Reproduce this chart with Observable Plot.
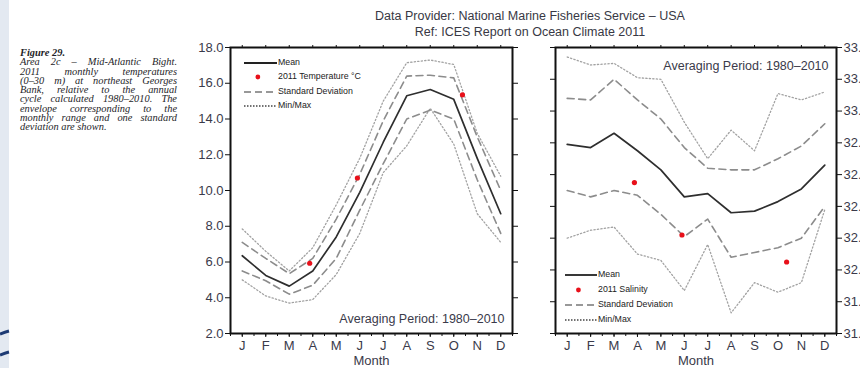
<!DOCTYPE html>
<html>
<head>
<meta charset="utf-8">
<script src="https://cdn.jsdelivr.net/npm/d3@7"></script>
<script src="https://cdn.jsdelivr.net/npm/@observablehq/plot@0.6"></script>
<style>
  html, body { margin:0; padding:0; background:#fff; }
  #root { position:relative; width:860px; height:368px; overflow:hidden; background:#fff; font-family:"Liberation Sans", Arial, sans-serif; }
  .abs { position:absolute; }
  .cap { position:absolute; left:20px; top:48px; width:157px; font-family:"Liberation Serif", "Times New Roman", serif; font-style:italic; font-size:10.4px; line-height:9.3px; color:#1e1e28; }
  .cap div { text-align:justify; text-align-last:justify; white-space:nowrap; }
  .cap div.last { text-align-last:left; }
  .title { position:absolute; left:330px; width:400px; text-align:center; font-size:12.5px; color:#383844; }
  .leg { position:absolute; font-size:8.8px; color:#222; white-space:nowrap; }
  .leg .row { position:absolute; left:0; height:10px; }
  .leg svg { position:absolute; left:0; top:0; }
  .leg span { position:absolute; top:-1px; }
</style>
</head>
<body>
<div id="root">
  <div class="abs" style="left:0;top:0;width:9px;height:368px;background:#e3e9f1;"></div>
  <svg class="abs" style="left:0;top:320px" width="12" height="48">
    <path d="M0,14 Q5,12 9,11" stroke="#1d3b74" stroke-width="3" fill="none"/>
    <path d="M0,35 Q5,33 9,32" stroke="#1d3b74" stroke-width="3" fill="none"/>
  </svg>
  <div class="cap" id="cap"></div>
  <div class="title" style="top:9px">Data Provider: National Marine Fisheries Service – USA</div>
  <div class="title" style="top:25px">Ref: ICES Report on Ocean Climate 2011</div>
  <div class="abs" id="left" style="left:190px;top:40px"></div>
  <div class="abs" id="right" style="left:520px;top:40px"></div>
</div>
<script>
// ---------- data ----------
const monthLabels = ["J","F","M","A","M","J","J","A","S","O","N","D"];
const monthIdx = [1,2,3,4,5,6,7,8,9,10,11,12];

// Temperature (°C), left panel
const tempTicks = [2,4,6,8,10,12,14,16,18];
const tempMean   = [6.35, 5.25, 4.65, 5.5, 7.4, 9.9, 12.7, 15.3, 15.65, 15.1, 11.8, 8.7];
const tempSdUp   = [7.1, 6.2, 5.35, 6.2, 8.4, 10.9, 13.9, 16.4, 16.45, 16.3, 13.0, 10.0];
const tempSdLow  = [5.5, 4.95, 4.2, 4.7, 6.2, 8.9, 11.5, 14.0, 14.5, 14.0, 10.6, 7.6];
const tempMax    = [7.85, 6.6, 5.5, 6.8, 9.2, 11.8, 15.0, 17.15, 17.3, 17.05, 13.2, 10.8];
const tempMin    = [5.0, 4.1, 3.7, 3.9, 5.3, 7.6, 11.0, 12.5, 14.6, 12.6, 8.7, 7.1];
const obsMonth   = [3.87, 5.9, 10.37];
const temp2011   = [5.93, 10.7, 15.35];

// Salinity, right panel
const salTicks = [31.6,31.8,32.0,32.2,32.4,32.6,32.8,33.0,33.2,33.4];
const salMean  = [32.79, 32.77, 32.86, 32.75, 32.63, 32.46, 32.48, 32.36, 32.37, 32.43, 32.51, 32.66];
const salSdUp  = [33.08, 33.07, 33.20, 33.07, 32.95, 32.77, 32.64, 32.63, 32.63, 32.70, 32.78, 32.92];
const salSdLow = [32.50, 32.46, 32.50, 32.47, 32.35, 32.21, 32.32, 32.08, 32.11, 32.14, 32.20, 32.40];
const salMax   = [33.34, 33.29, 33.30, 33.21, 33.20, 32.93, 32.70, 32.88, 32.75, 33.11, 33.07, 33.12];
const salMin   = [32.20, 32.25, 32.27, 32.10, 32.06, 31.87, 32.16, 31.73, 31.92, 31.86, 31.92, 32.38];
const sal2011  = [32.55, 32.22, 32.05];

const captionLines = [
  "Area 2c – Mid-Atlantic Bight.",
  "2011 monthly temperatures",
  "(0–30 m) at northeast Georges",
  "Bank, relative to the annual",
  "cycle calculated 1980–2010. The",
  "envelope corresponding to the",
  "monthly range and one standard",
  "deviation are shown."
];

// ---------- helpers ----------
const rows = arr => arr.map((v, i) => ({m: monthIdx[i], v}));
const pts = (ms, vs) => ms.map((m, i) => ({m, v: vs[i]}));
const halfTicks = d3.range(0.5, 12.51, 0.5);

const sMean = {stroke:"#2e2e2e", strokeWidth:1.7};
const sSd   = {stroke:"#8c8c8c", strokeWidth:1.6, strokeDasharray:"7,4.5"};
const sMm   = {stroke:"#a2a2a2", strokeWidth:1.3, strokeDasharray:"1.3,2.2"};
const textColor = "#3a3a4a";

function panel(o) {
  return Plot.plot({
    width: 340, height: 328,
    marginLeft: o.ml, marginRight: o.mr, marginTop: 7, marginBottom: 35,
    x: {domain: [0.5, 12.5]},
    y: {domain: o.domain},
    style: {fontFamily: "Liberation Sans, Arial, sans-serif", fontSize: "13px", color: textColor, background: "transparent", overflow: "visible"},
    marks: [
      Plot.line(rows(o.max), {x:"m", y:"v", ...sMm}),
      Plot.line(rows(o.min), {x:"m", y:"v", ...sMm}),
      Plot.line(rows(o.sdUp), {x:"m", y:"v", ...sSd}),
      Plot.line(rows(o.sdLow), {x:"m", y:"v", ...sSd}),
      Plot.line(rows(o.mean), {x:"m", y:"v", ...sMean}),
      Plot.dot(pts(obsMonth, o.obs), {x:"m", y:"v", r:2.6, fill:"#e8101a", stroke:"none"}),
      Plot.frame({stroke:"#111", strokeWidth:2}),
      Plot.axisY({anchor: o.labelSide, ticks: o.ticks, tickFormat: d => d.toFixed(1), tickSize:5, tickPadding:2, label:null, stroke:"#111"}),
      Plot.axisY({anchor: o.labelSide === "left" ? "right" : "left", ticks: o.ticks, tickFormat: () => "", tickSize:5, label:null, stroke:"#111"}),
      Plot.axisX({anchor:"top", ticks: monthIdx, tickFormat: () => "", tickSize:3, label:null, stroke:"#111"}),
      Plot.axisX({anchor:"bottom", ticks: halfTicks, tickFormat: () => "", tickSize:3, label:null, stroke:"#111"}),
      Plot.axisX({anchor:"bottom", ticks: monthIdx, tickFormat: i => monthLabels[i - 1], tickSize:4, tickPadding:3, label:null, stroke:"#111"}),
      Plot.text(["Month"], {text: d => d, frameAnchor:"bottom", dy:27, lineAnchor:"middle", fontSize:13, fill:textColor}),
      Plot.text(["Averaging Period: 1980–2010"], {text: d => d, frameAnchor: o.avgAnchor, dx: -8, dy: o.avgDy, lineAnchor:"middle", textAnchor:"end", fontSize:12.5, fill:textColor})
    ]
  });
}

document.getElementById("left").append(panel({
  ml: 40, mr: 18, domain: [2, 18], ticks: tempTicks, labelSide: "left",
  mean: tempMean, sdUp: tempSdUp, sdLow: tempSdLow, max: tempMax, min: tempMin, obs: temp2011,
  avgAnchor: "bottom-right", avgDy: -15
}));
document.getElementById("right").append(panel({
  ml: 35, mr: 24, domain: [31.6, 33.4], ticks: salTicks, labelSide: "right",
  mean: salMean, sdUp: salSdUp, sdLow: salSdLow, max: salMax, min: salMin, obs: sal2011,
  avgAnchor: "top-right", avgDy: 18
}));

// caption
const cap = document.getElementById("cap");
const head = document.createElement("div");
head.className = "last";
head.style.fontWeight = "bold";
head.textContent = "Figure 29.";
cap.append(head);
captionLines.forEach((t, i) => {
  const d = document.createElement("div");
  if (i === captionLines.length - 1) d.className = "last";
  d.textContent = t;
  cap.append(d);
});

// legends
function legend(x, y, lineW, gap, labels, step) {
  const root = document.getElementById("root");
  const box = document.createElement("div");
  box.className = "leg";
  box.style.left = x + "px";
  box.style.top = y + "px";
  const kinds = ["mean", "dot", "sd", "mm"];
  kinds.forEach((k, i) => {
    const r = document.createElement("div");
    r.className = "row";
    r.style.top = (i * step[i]) + "px";
    let svg = `<svg width="${lineW}" height="10">`;
    if (k === "mean") svg += `<line x1="0" x2="${lineW}" y1="5" y2="5" stroke="#222" stroke-width="1.8"/>`;
    if (k === "dot") svg += `<circle cx="${lineW * 0.42}" cy="5" r="2.4" fill="#e8101a"/>`;
    if (k === "sd") svg += `<line x1="0" x2="${lineW}" y1="5" y2="5" stroke="#777" stroke-width="1.5" stroke-dasharray="7,4"/>`;
    if (k === "mm") svg += `<line x1="0" x2="${lineW}" y1="5" y2="5" stroke="#444" stroke-width="1.5" stroke-dasharray="1.5,1.5"/>`;
    svg += `</svg>`;
    r.innerHTML = svg + `<span style="left:${lineW + gap}px">${labels[i]}</span>`;
    box.append(r);
  });
  root.append(box);
}
legend(244, 58, 33, 1, ["Mean", "2011 Temperature °C", "Standard Deviation", "Min/Max"], [14, 14.3, 14.3, 14.3]);
legend(565, 270, 32, 1, ["Mean", "2011 Salinity", "Standard Deviation", "Min/Max"], [14.5, 15, 15, 15]);
</script>
</body>
</html>
